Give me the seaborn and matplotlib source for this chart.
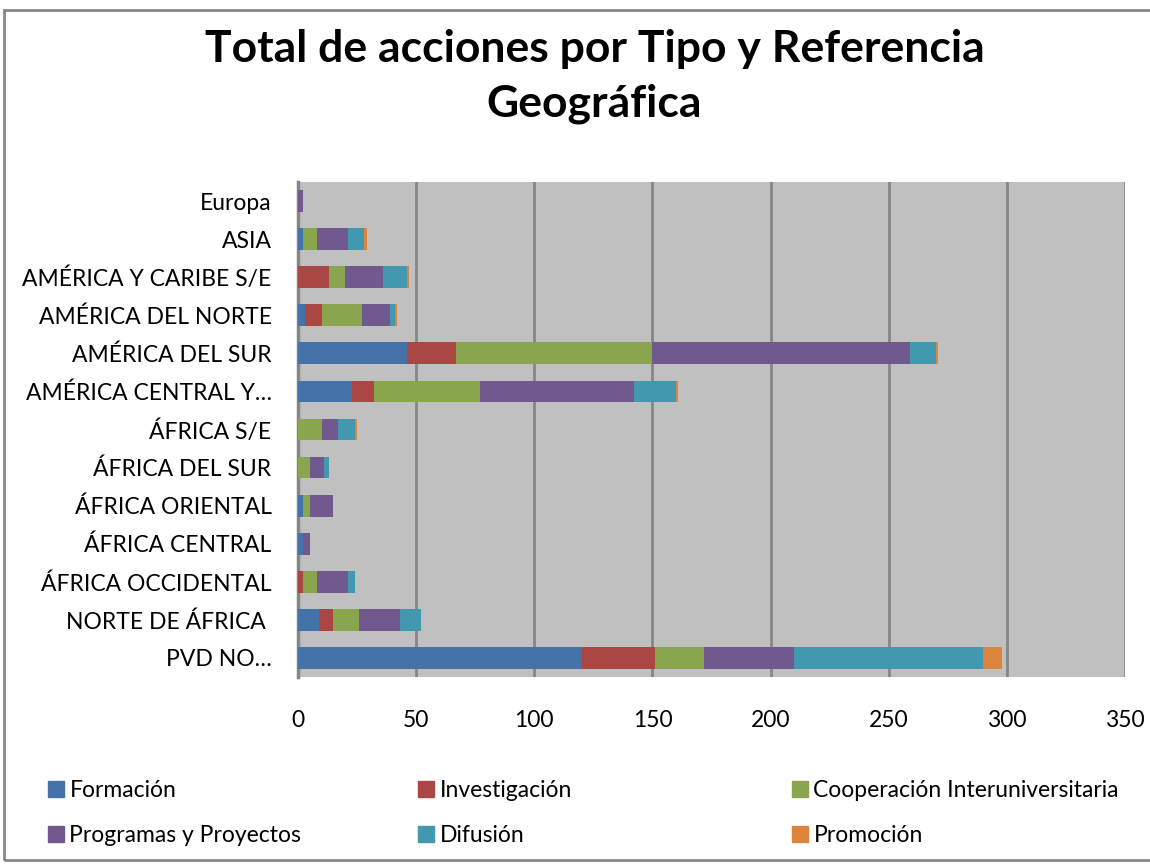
import numpy as np
import pandas as pd
import matplotlib
matplotlib.use("Agg")
import matplotlib.pyplot as plt
import seaborn as sns
from matplotlib.patches import Rectangle
from matplotlib.lines import Line2D

# datos (de arriba a abajo)
regiones = ["Europa", "ASIA", "AMÉRICA Y CARIBE S/E", "AMÉRICA DEL NORTE",
            "AMÉRICA DEL SUR", "AMÉRICA CENTRAL Y…", "ÁFRICA S/E",
            "ÁFRICA DEL SUR", "ÁFRICA ORIENTAL", "ÁFRICA CENTRAL",
            "ÁFRICA OCCIDENTAL", "NORTE DE ÁFRICA ", "PVD NO…"]

formacion     = [0, 2, 0, 3, 46, 23, 0, 0, 2, 2, 0, 9, 120]
investigacion = [0, 0, 13, 7, 21, 9, 0, 0, 0, 0, 2, 6, 31]
cooperacion   = [0, 6, 7, 17, 83, 45, 10, 5, 3, 0, 6, 11, 21]
programas     = [2, 13, 16, 12, 109, 65, 7, 6, 10, 3, 13, 17, 38]
difusion      = [0, 7, 10, 2, 11, 18, 7, 2, 0, 0, 3, 9, 80]
promocion     = [0, 1, 1, 1, 1, 1, 1, 0, 0, 0, 0, 0, 8]

tipos = ["Formación", "Investigación", "Cooperación Interuniversitaria",
         "Programas y Proyectos", "Difusión", "Promoción"]
colores = ["#4572A7", "#AA4643", "#89A54E", "#71588F", "#4198AF", "#DB843D"]

series = [formacion, investigacion, cooperacion, programas, difusion, promocion]
acum = np.cumsum(np.array(series), axis=0)

sns.set_theme(style="white")
plt.rcParams['font.family'] = ['Lato', 'DejaVu Sans']
plt.rcParams['text.color'] = 'black'

fig = plt.figure(figsize=(11.5, 8.64), dpi=100)
ax = fig.add_axes([298/1150, 1 - 677/864, (1125-298)/1150, (677-182)/864])
ax.set_facecolor("#C0C0C0")

# barras apiladas: se dibujan de mayor a menor acumulado
for i in range(len(tipos) - 1, -1, -1):
    df = pd.DataFrame({"region": regiones, "valor": acum[i]})
    sns.barplot(data=df, x="valor", y="region", order=regiones,
                color=colores[i], width=0.57, ax=ax, saturation=1,
                linewidth=0, zorder=3)

ax.set_xlim(0, 350)
ax.set_xticks(np.arange(0, 351, 50))
ax.grid(axis="x", color="#868686", linewidth=2, zorder=0)
ax.set_axisbelow(True)
for s in ["top", "right", "bottom"]:
    ax.spines[s].set_visible(False)
ax.spines["left"].set_color("#868686")
ax.spines["left"].set_linewidth(2.5)
ax.set_xlabel("")
ax.set_ylabel("")
ax.tick_params(axis="y", labelsize=16.5, length=0, pad=19, colors="black")
ax.tick_params(axis="x", labelsize=16.5, length=0, pad=24, colors="black")

fig.text(0.517, 0.967, "Total de acciones por Tipo y Referencia\nGeográfica",
         ha="center", va="top", fontsize=32, fontweight="bold",
         linespacing=1.45, color="black")

# leyenda en tres columnas separadas
xs = [35/1150, 405/1150, 779/1150]
for c in range(3):
    hs = []
    for r in range(2):
        k = r * 3 + c
        hs.append(Line2D([], [], marker="s", linestyle="", markersize=11,
                         color=colores[k], label=tipos[k]))
    fig.legend(handles=hs, loc="upper left", bbox_to_anchor=(xs[c], 1 - 771/864),
               frameon=False, fontsize=16.5, handletextpad=0.1,
               labelspacing=1.05, borderaxespad=0, handlelength=1,
               labelcolor="black")

fig.patches.append(Rectangle((4/1150, 4/864), 1.2, 1 - 14/864,
                             transform=fig.transFigure, fill=False,
                             edgecolor="#888888", linewidth=2))

fig.savefig("out.png", dpi=100)
